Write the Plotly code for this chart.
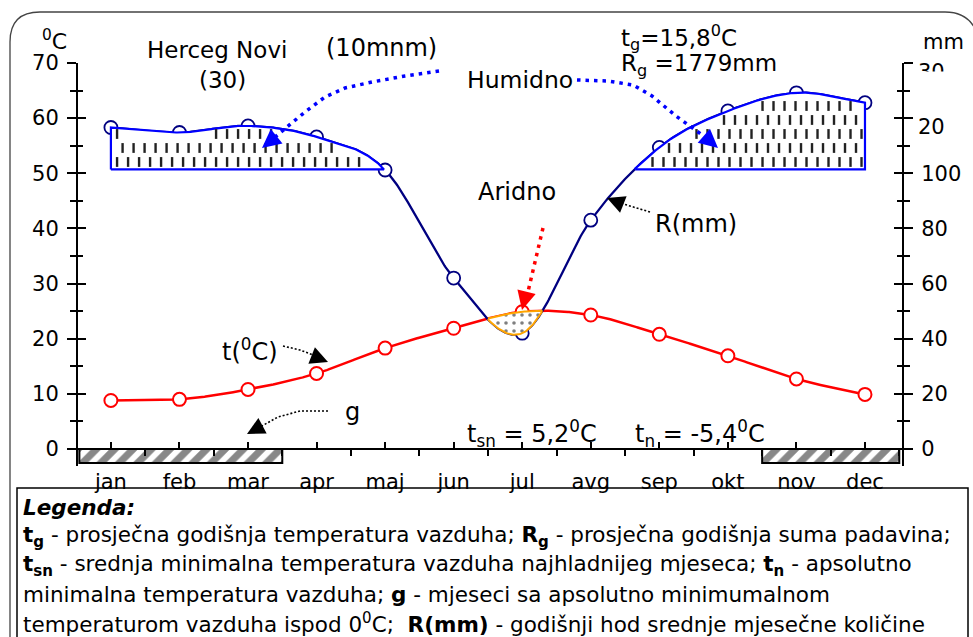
import numpy as np
import plotly.graph_objects as go

W, H = 973, 637

# ---------------- data ----------------
months = ["jan", "feb", "mar", "apr", "maj", "jun", "jul", "avg", "sep", "okt", "nov", "dec"]
temp_c = [8.8, 9.0, 10.8, 13.7, 18.3, 21.9, 24.9, 24.3, 20.8, 16.9, 12.7, 9.9]
precip_mm = [183, 174, 186, 166, 106, 62, 42, 83, 147, 213, 246, 228]
frost_months = ["jan", "feb", "mar", "nov", "dec"]          # g
temp_ticks = [0, 10, 20, 30, 40, 50, 60, 70]
mm_tick_text = ["0", "20", "40", "60", "80", "100", "20", "30"]


def mm_to_scale(p):
    # Walter-Lieth: 10 C = 20 mm below 100 mm, 10 C = 100 mm above
    p = np.asarray(p, dtype=float)
    return np.where(p <= 100, p / 2.0, 50 + (p - 100) / 10.0)


def hermite(ys, n=60):
    ys = np.asarray(ys, dtype=float)
    k = len(ys)
    m = np.zeros(k)
    m[1:-1] = (ys[2:] - ys[:-2]) / 2
    m[0] = ys[1] - ys[0]
    m[-1] = ys[-1] - ys[-2]
    xs, out = [], []
    for i in range(k - 1):
        t = np.linspace(0, 1, n, endpoint=False)
        h00 = 2 * t**3 - 3 * t**2 + 1
        h10 = t**3 - 2 * t**2 + t
        h01 = -2 * t**3 + 3 * t**2
        h11 = t**3 - t**2
        out.append(h00 * ys[i] + h10 * m[i] + h01 * ys[i + 1] + h11 * m[i + 1])
        xs.append(i + t)
    xs.append(np.array([k - 1.0]))
    out.append(np.array([ys[-1]]))
    return np.concatenate(xs), np.concatenate(out)


xi = np.arange(len(months), dtype=float)
p_scaled = mm_to_scale(precip_mm)
xx, tt = hermite(temp_c)
_, pp = hermite(p_scaled)

XR = [-0.48, 11.54]
YR = [-(17 / 5.514), 70]
BASE = 50.7            # lower edge of the humid (>100 mm) band
G_BOT = -(14 / 5.514)


def px(x):
    return x / W


def py(y):
    return 1 - y / H


fig = go.Figure()

# g bars (months with absolute minimum below 0 C)
idx = [months.index(m) for m in frost_months]
groups = []
for i in sorted(idx):
    if groups and i == groups[-1][-1] + 1:
        groups[-1].append(i)
    else:
        groups.append([i])
for g in groups:
    x0 = max(g[0] - 0.5, XR[0] + 0.02)
    x1 = min(g[-1] + 0.5, XR[1] - 0.02)
    fig.add_trace(go.Scatter(
        x=[x0, x1, x1, x0, x0], y=[0, 0, G_BOT, G_BOT, 0], mode="lines",
        fill="toself", fillcolor="white",
        fillpattern=dict(shape="/", fgcolor="#111", bgcolor="white", size=13, solidity=0.55),
        line=dict(color="black", width=2), hoverinfo="skip", showlegend=False))

# temperature curve
fig.add_trace(go.Scatter(x=xx, y=tt, mode="lines", line=dict(color="#ff0000", width=2.5),
                         hoverinfo="skip", showlegend=False))
fig.add_trace(go.Scatter(x=xi, y=temp_c, mode="markers",
                         marker=dict(size=13, color="white", line=dict(color="#ff0000", width=2)),
                         showlegend=False))
# precipitation curve
fig.add_trace(go.Scatter(x=xx, y=pp, mode="lines", line=dict(color="#000080", width=2.3),
                         hoverinfo="skip", showlegend=False))
fig.add_trace(go.Scatter(x=xi, y=p_scaled, mode="markers",
                         marker=dict(size=13, color="white", line=dict(color="#000080", width=1.8)),
                         showlegend=False))


def runs(mask):
    res, start = [], None
    for i, v in enumerate(mask):
        if v and start is None:
            start = i
        if not v and start is not None:
            res.append((start, i - 1))
            start = None
    if start is not None:
        res.append((start, len(mask) - 1))
    return res


# humid polygons with dashed hatching
hx, hy = [], []
for a, b in runs(pp > BASE):
    sx, sy = xx[a:b + 1], pp[a:b + 1]
    fig.add_trace(go.Scatter(
        x=np.concatenate([[sx[0]], sx, [sx[-1], sx[0]]]),
        y=np.concatenate([[BASE], sy, [BASE, BASE]]),
        mode="lines", fill="toself", fillcolor="white",
        line=dict(color="#0000ff", width=2.2), hoverinfo="skip", showlegend=False))
    dx, dy = 11 / 68.55, 14 / 5.514
    row = 0
    yv = BASE + 1.35
    while yv < sy.max():
        xv = sx[0] + 0.09 + (row % 2) * dx / 2
        while xv < sx[-1] - 0.04:
            top = np.interp(xv, sx, sy)
            if yv < top - 1.0:
                hx.append(xv)
                hy.append(yv)
            xv += dx
        yv += dy
        row += 1
fig.add_trace(go.Scatter(x=hx, y=hy, mode="markers",
                         marker=dict(symbol="line-ns", size=7, line=dict(color="#222", width=2.4)),
                         hoverinfo="skip", showlegend=False))

# arid polygon
for a, b in runs(tt > pp):
    sx = xx[a:b + 1]
    fig.add_trace(go.Scatter(
        x=np.concatenate([sx, sx[::-1], [sx[0]]]),
        y=np.concatenate([tt[a:b + 1], pp[a:b + 1][::-1], [tt[a]]]),
        mode="lines", fill="toself", fillcolor="white",
        fillpattern=dict(shape=".", fgcolor="black", bgcolor="white", size=8, solidity=0.16),
        line=dict(color="#ffa500", width=2), hoverinfo="skip", showlegend=False))

FONT = "DejaVu Sans"
tick_common = dict(tickcolor="black", tickwidth=2, showgrid=False, zeroline=False)

fig.update_layout(
    width=W, height=H, margin=dict(l=0, r=0, t=0, b=0, autoexpand=False),
    paper_bgcolor="white", plot_bgcolor="white",
    font=dict(family=FONT, color="black", size=20),
    showlegend=False,
    xaxis=dict(domain=[78 / W, 902 / W], range=XR, anchor="free", position=py(449),
               showline=True, linecolor="black", linewidth=2,
               tickmode="array", tickvals=list(range(12)), ticktext=months,
               ticks="inside", ticklen=6, ticklabelstandoff=14,
               tickfont=dict(size=21, family=FONT),
               minor=dict(tickmode="array", tickvals=[i + 0.5 for i in range(12)],
                          ticks="outside", ticklen=6, tickwidth=2, tickcolor="black"),
               **tick_common),
    yaxis=dict(domain=[py(466), py(63)], range=YR, showline=True, linecolor="black", linewidth=2,
               tickmode="array", tickvals=temp_ticks, ticks="outside", ticklen=9,
               ticklabelstandoff=4, tickfont=dict(size=21, family=FONT),
               minor=dict(tickmode="linear", tick0=0, dtick=5, ticks="outside", ticklen=6,
                          tickwidth=2, tickcolor="black"),
               **tick_common),
    yaxis3=dict(overlaying="y", side="left", range=YR, showline=False,
                tickmode="array", tickvals=temp_ticks, ticks="inside", ticklen=8,
                showticklabels=False,
                minor=dict(tickmode="linear", tick0=0, dtick=5, ticks="inside", ticklen=5,
                           tickwidth=2, tickcolor="black"),
                **tick_common),
    yaxis2=dict(overlaying="y", side="right", range=YR, showline=True, linecolor="black",
                linewidth=2, tickmode="array", tickvals=temp_ticks,
                ticktext=mm_tick_text[:6] + [""] * (len(temp_ticks) - 6),
                ticks="outside", ticklen=9, ticklabelstandoff=4,
                tickfont=dict(size=21, family=FONT),
                minor=dict(tickmode="linear", tick0=0, dtick=5, ticks="outside", ticklen=6,
                           tickwidth=2, tickcolor="black"),
                **tick_common),
    yaxis4=dict(overlaying="y", side="right", range=YR, showline=False,
                tickmode="array", tickvals=temp_ticks, ticks="inside", ticklen=8,
                showticklabels=False,
                minor=dict(tickmode="linear", tick0=0, dtick=5, ticks="inside", ticklen=5,
                           tickwidth=2, tickcolor="black"),
                **tick_common),
)
# dummy invisible traces so the overlay axes render
for ya in ["y2", "y3", "y4"]:
    fig.add_trace(go.Scatter(x=[0], y=[0], yaxis=ya, mode="markers",
                             marker=dict(opacity=0), hoverinfo="skip", showlegend=False))

shapes = []
# outer rounded frame
frame = (f"M {px(10)},{py(660)} L {px(10)},{py(42)} Q {px(10)},{py(12)} {px(40)},{py(12)} "
         f"L {px(945)},{py(12)} Q {px(975)},{py(12)} {px(980)},{py(45)} L {px(980)},{py(660)}")
shapes.append(dict(type="path", xref="paper", yref="paper", path=frame,
                   line=dict(color="#444", width=1.3)))
# legend box
shapes.append(dict(type="rect", xref="paper", yref="paper", x0=px(17), x1=px(968),
                   y0=py(660), y1=py(488), line=dict(color="black", width=1.5),
                   fillcolor="rgba(0,0,0,0)"))


def dotted(points, color, width, dash):
    d = "M " + " L ".join(f"{px(a)},{py(b)}" for a, b in points)
    shapes.append(dict(type="path", xref="paper", yref="paper", path=d,
                       line=dict(color=color, width=width, dash=dash)))


dotted([(439, 71), (405, 76), (372, 82), (345, 88), (325, 97), (305, 112), (287, 127), (274, 138)],
       "#0000ff", 3.5, "3.5px,5px")
dotted([(577, 80), (608, 81), (633, 85), (652, 96), (676, 116), (705, 137)],
       "#0000ff", 3.5, "3.5px,5px")
dotted([(543, 228), (527, 296)], "#ff0000", 3.5, "3.5px,5px")
dotted([(650, 212), (620, 203)], "black", 1.6, "2px,2px")
dotted([(283, 346), (300, 350), (316, 356)], "black", 1.6, "2px,2px")
dotted([(328, 411), (300, 411), (278, 417), (260, 427)], "black", 1.6, "2px,2px")
fig.update_layout(shapes=shapes)

ann = []


def arrowhead(tip, tail, color, width, size):
    ann.append(dict(xref="paper", yref="paper", x=px(tip[0]), y=py(tip[1]),
                    ax=tail[0] - tip[0], ay=tail[1] - tip[1], text="", showarrow=True,
                    arrowhead=2, arrowsize=size, arrowwidth=width, arrowcolor=color))


arrowhead((262, 148), (277, 136), "#0000ff", 2.5, 1.5)
arrowhead((718, 148), (703, 135), "#0000ff", 2.5, 1.5)
arrowhead((522, 310), (526, 294), "#ff0000", 2.5, 1.5)
arrowhead((607, 198), (622, 204), "black", 1.6, 2.2)
arrowhead((328, 362), (313, 356), "black", 1.6, 2.2)
arrowhead((247, 434), (262, 426), "black", 1.6, 2.2)

# upper mm labels (compressed part of the scale) sit a little lower than their ticks
for v, s in zip(temp_ticks[6:], mm_tick_text[6:]):
    ann.append(dict(xref="paper", yref="y", x=px(916), y=v, yshift=-9, text=s,
                    showarrow=False, xanchor="left", yanchor="middle",
                    font=dict(size=21, family=FONT, color="black")))
# white patch that cuts the top "30" label like in the original
ann.append(dict(xref="paper", yref="paper", x=px(934), y=py(79), text="&nbsp;", showarrow=False,
                width=40, height=14, bgcolor="white", borderpad=0, xanchor="center",
                yanchor="middle", font=dict(size=8)))


def text(x, y, s, size=23, xanchor="center", yanchor="middle", family=FONT):
    ann.append(dict(xref="paper", yref="paper", x=px(x), y=py(y), text=s, showarrow=False,
                    xanchor=xanchor, yanchor=yanchor,
                    font=dict(size=size, family=family, color="black")))


text(54, 40, "<sup>0</sup>C", 22)
text(943, 42, "mm", 21)
text(217, 50, "Herceg Novi", 23)
text(222, 80, "(30)", 23)
text(381, 48, "(10mnm)", 24)
text(619, 37, "t<sub>g</sub>=15,8<sup>0</sup>C", 23, "left")
text(619, 65, "R<sub>g</sub> =1779mm", 23, "left")
text(520, 80, "Humidno", 23.5)
text(517, 192, "Aridno", 24)
text(653, 224, "R(mm)", 24, "left")
text(250, 350, "t(<sup>0</sup>C)", 24)
text(352, 412, "g", 24)
text(465, 433, "t<sub>sn</sub> = 5,2<sup>0</sup>C", 24, "left")
text(633, 433, "t<sub>n</sub> = -5,4<sup>0</sup>C", 24, "left")

legend_lines = [
    "<b><i>Legenda:</i></b>",
    "<b>t<sub>g</sub></b> - prosječna godišnja temperatura vazduha; <b>R<sub>g</sub></b> - prosječna godišnja suma padavina;",
    "<b>t<sub>sn</sub></b> - srednja minimalna temperatura vazduha najhladnijeg mjeseca; <b>t<sub>n</sub></b> - apsolutno",
    "minimalna temperatura vazduha; <b>g</b> - mjeseci sa apsolutno minimumalnom",
    "temperaturom vazduha ispod 0<sup>0</sup>C;  <b>R(mm)</b> - godišnji hod srednje mjesečne količine",
]
for i, s in enumerate(legend_lines):
    text(21, 507 + i * 29, s, 21.5, "left")

fig.update_layout(annotations=ann)
fig.write_html("out.html", config={"displayModeBar": False},
               post_script="document.body.style.margin='0px';")
